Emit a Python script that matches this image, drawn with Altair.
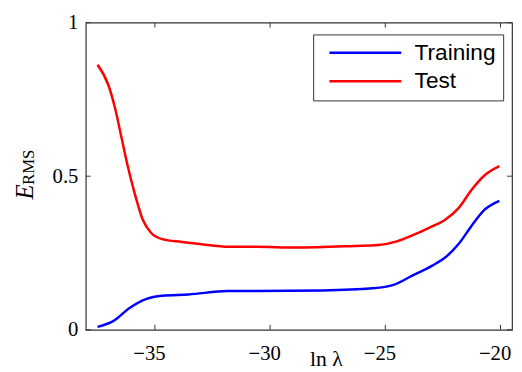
import altair as alt
import pandas as pd

# ---- data ----
test_x = [-37.49, -37.02, -36.73, -36.45, -36.17, -35.88, -35.53, -35.17, -34.68, -33.83,
          -33.05, -31.78, -30.6, -28.88, -26.33, -25.3, -24.5, -23.81, -23.1, -22.39,
          -21.82, -21.26, -20.69, -20.05]
test_y = [0.863, 0.797, 0.722, 0.626, 0.530, 0.445, 0.359, 0.316, 0.295, 0.286,
          0.279, 0.270, 0.270, 0.268, 0.273, 0.276, 0.288, 0.308, 0.332, 0.359,
          0.396, 0.455, 0.503, 0.533]
train_x = [-37.49, -36.81, -36.10, -35.39, -34.68, -33.54, -31.83, -30.59, -27.74, -25.55,
           -24.64, -23.81, -22.96, -22.39, -21.82, -21.26, -20.69, -20.05]
train_y = [0.0096, 0.028, 0.071, 0.100, 0.111, 0.115, 0.126, 0.126, 0.128, 0.135,
           0.146, 0.177, 0.209, 0.236, 0.279, 0.338, 0.391, 0.420]
series_names = ["Training", "Test"]
series_colors = ["#0000ff", "#ff0000"]
x_ticks = [-35, -30, -25, -20]
y_ticks = [0, 0.5, 1]

W, H = 433, 312
SERIF = "Liberation Serif"
SANS = "Liberation Sans"

df = pd.concat([
    pd.DataFrame({"x": train_x, "y": train_y, "series": "Training"}),
    pd.DataFrame({"x": test_x, "y": test_y, "series": "Test"}),
])

xs = alt.Scale(domain=[-38, -19.5], nice=False, zero=False)
ys = alt.Scale(domain=[0, 1], nice=False, zero=False)

lines = alt.Chart(df).mark_line(strokeWidth=2.5, interpolate="monotone").encode(
    x=alt.X("x:Q", scale=xs, axis=alt.Axis(
        values=x_ticks, ticks=False, domain=False, grid=False, labelPadding=13,
        labelOffset=-6,
        labelFont=SERIF, labelFontSize=21, labelColor="black", labelFlush=False,
        title="ln λ", titleFont=SERIF, titleFontSize=22, titleFontWeight="normal",
        titleColor="black", titleX=244, titleY=36, titleBaseline="alphabetic")),
    y=alt.Y("y:Q", scale=ys, axis=alt.Axis(
        values=y_ticks, ticks=False, domain=False, grid=False, labelPadding=8,
        labelFont=SERIF, labelFontSize=21, labelColor="black", labelFlush=False,
        format="~g", title=None)),
    color=alt.Color("series:N", sort=series_names,
                    scale=alt.Scale(domain=series_names, range=series_colors),
                    legend=alt.Legend(
                        title=None, orient="none", legendX=231, legendY=12,
                        strokeColor="#333", fillColor="white", padding=7,
                        symbolType="M-0.2,0H7.1", symbolSize=400, symbolStrokeWidth=2.5,
                        labelFont=SANS, labelFontSize=23, labelColor="black",
                        labelOffset=73, rowPadding=5)),
    order=alt.value(0),
)

xt = pd.DataFrame({"x": x_ticks})
yt = pd.DataFrame({"y": y_ticks})
tick_color = "#333"
xb = alt.Chart(xt).mark_rule(color=tick_color).encode(x=alt.X("x:Q", scale=xs), y=alt.value(H), y2=alt.value(H - 5))
xtop = alt.Chart(xt).mark_rule(color=tick_color).encode(x=alt.X("x:Q", scale=xs), y=alt.value(0), y2=alt.value(5))
yl = alt.Chart(yt).mark_rule(color=tick_color).encode(y=alt.Y("y:Q", scale=ys), x=alt.value(0), x2=alt.value(5))
yr = alt.Chart(yt).mark_rule(color=tick_color).encode(y=alt.Y("y:Q", scale=ys), x=alt.value(W), x2=alt.value(W - 5))

e_txt = alt.Chart(pd.DataFrame({"t": ["E"]})).mark_text(
    font=SERIF, fontSize=25, fontStyle="italic", angle=270, align="center",
    baseline="alphabetic", color="black").encode(text="t:N", x=alt.value(-54), y=alt.value(172))
rms_txt = alt.Chart(pd.DataFrame({"t": ["RMS"]})).mark_text(
    font=SERIF, fontSize=17, angle=270, align="center",
    baseline="alphabetic", color="black").encode(text="t:N", x=alt.value(-53), y=alt.value(147))

chart = alt.layer(xb, xtop, yl, yr, lines, e_txt, rms_txt).properties(
    width=W, height=H,
    autosize=alt.AutoSizeParams(type="none"),
    padding={"left": 79, "top": 12, "right": 2, "bottom": 38},
).configure_view(stroke="#333", strokeWidth=1.2)

chart.save("out.html", embed_options={"renderer": "svg", "actions": False})
